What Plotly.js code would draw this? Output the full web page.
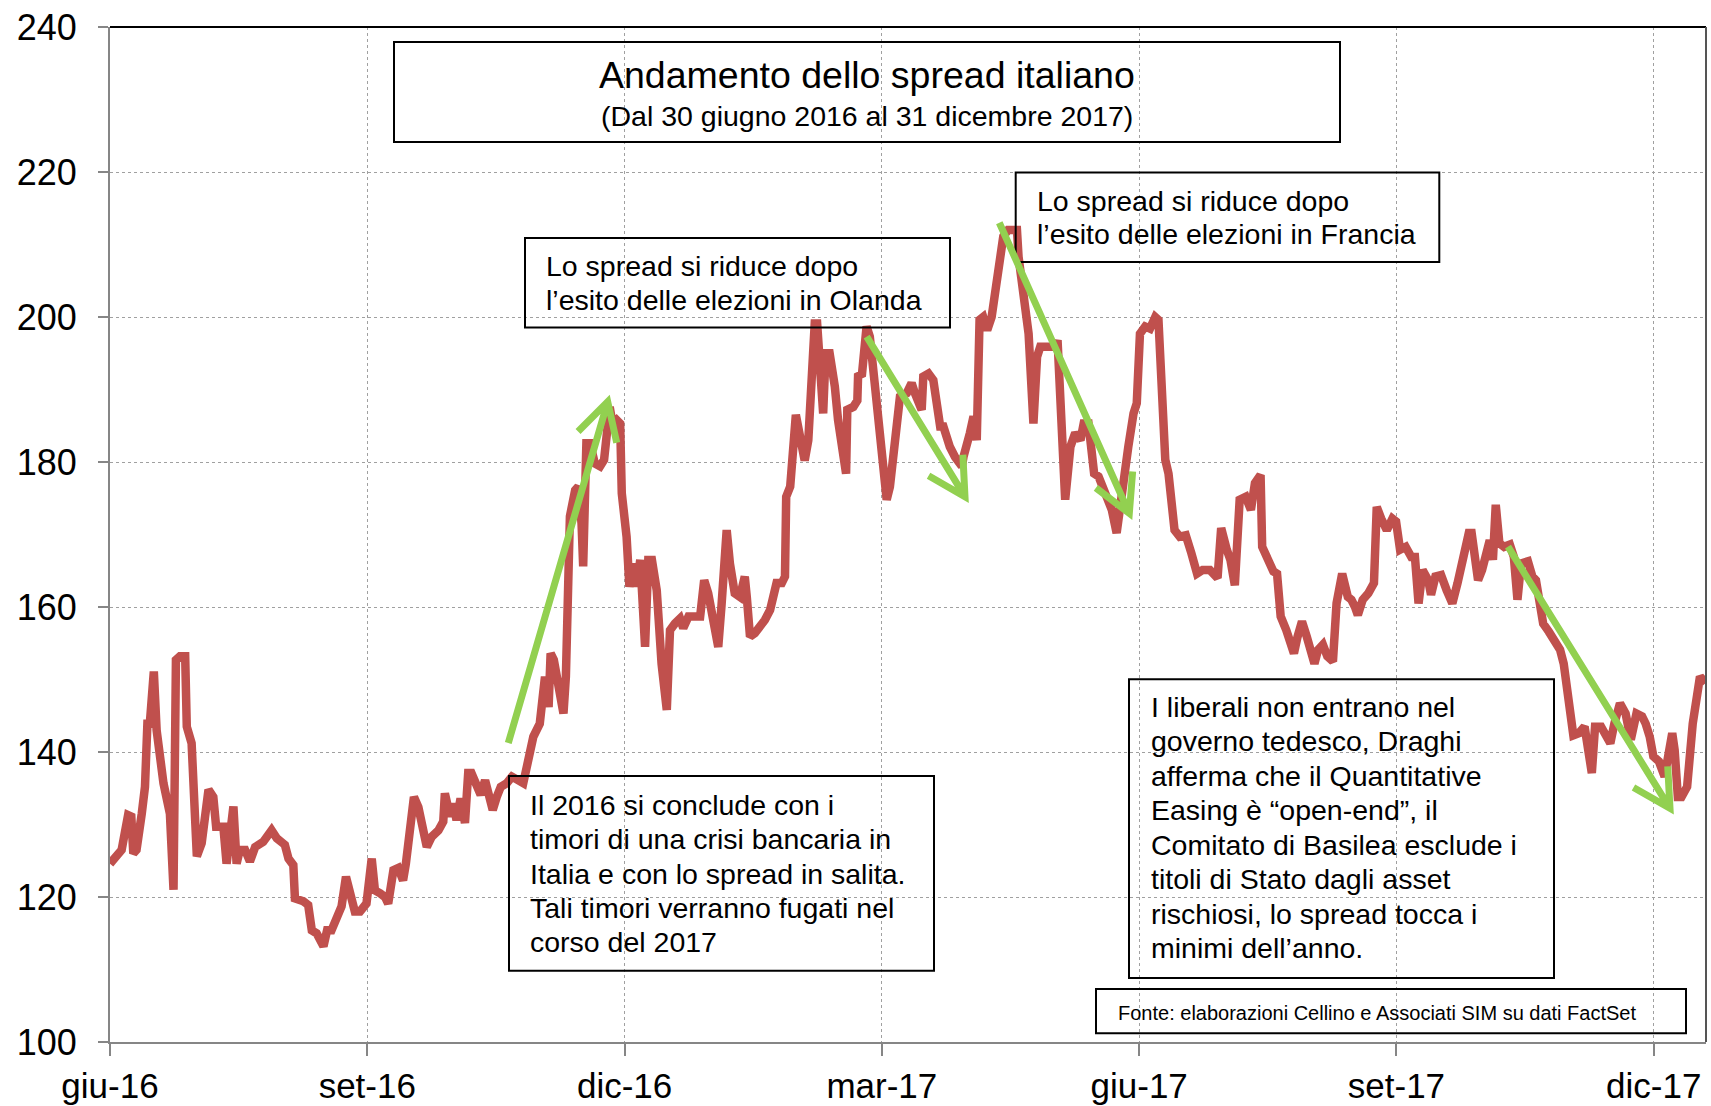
<!DOCTYPE html>
<html>
<head>
<meta charset="utf-8">
<script src="https://cdn.plot.ly/plotly-3.0.1.min.js"></script>
<style>
html,body{margin:0;padding:0;background:#fff;}
#chart{width:1711px;height:1106px;}
</style>
</head>
<body>
<div id="chart"></div>
<script>
// ---- DATA (trading-day index, spread in basis points) ----
const dayIndex = [
0,1.7,2.9,4.5,5.3,5.8,6.6,7.9,8.7,9.3,9.9,10.9,11.6,13.3,14.3,14.9,15.8,16.4,17.4,18.7,19.1,20.3,21.6,22.8,24.5,25.7,26.4,28.2,29.0,30.7,31.5,32.3,33.6,34.8,36.1,38.1,40.2,41.5,43.5,44.4,45.6,46.0,48.1,49.3,50.2,51.4,53.1,54.0,55.1,56.4,57.6,58.7,59.7,60.9,62.2,63.8,65.1,65.9,67.2,68.4,69.2,70.5,71.7,72.9,73.6,74.6,75.6,76.7,77.9,78.8,80.0,81.7,82.9,83.3,84.6,85.4,86.2,87.2,88.3,89.1,89.9,91.2,92.2,93.3,94.1,95.2,96.2,97.2,98.7,100.0,102.8,103.6,104.5,105.3,
106.9,107.8,108.2,109.1,109.6,110.4,111.9,112.8,113.4,114.0,114.4,115.7,116.5,117.3,117.7,118.5,119.4,120.6,121.9,122.9,123.5,124.3,125.0,126.0,126.9,127.3,128.5,129.2,130.2,131.0,131.9,133.1,133.9,134.8,136.0,137.2,138.5,139.3,140.5,141.8,142.6,143.9,146.8,147.8,148.8,150.1,151.3,152.1,153.4,154.2,155.4,156.7,157.9,158.4,159.2,160.4,161.7,162.9,164.2,165.8,167.1,167.9,168.2,169.2,170.6,171.6,172.8,173.7,174.6,175.3,175.9,177.4,178.0,179.0,180.3,181.1,183.1,183.4,184.9,185.9,186.1,187.0,188.2,189.0,190.3,191.5,192.3,193.2,194.0,195.3,196.5,198.2,199.4,200.2,201.1,201.9,202.3,203.6,204.8,205.6,206.5,207.3,208.1,208.9,210.2,211.0,211.9,212.3,213.1,213.9,214.8,215.6,216.3,217.2,218.2,219.3,220.5,222.2,223.4,225.6,226.0,226.8,227.6,228.5,229.7,230.6,231.4,235.2,235.7,236.4,237.6,238.9,240.1,241.4,242.2,243.4,244.8,245.9,247.1,248.0,249.2,250.4,251.3,253.3,254.6,255.4,256.2,257.5,258.7,260.0,260.8,261.6,262.5,263.3,264.8,266.1,267.6,269.0,270.4,271.8,273.6,275.5,276.4,277.8,278.7,279.8,281.0,282.5,283.8,284.8,286.2,286.6,288.0,289.4,290.3,291.2,292.6,293.5,294.5,295.4,296.5,297.7,298.7,299.6,300.5,301.7,302.8,304.2,305.1,306.5,307.9,308.8,309.7,310.4,311.6,313.0,314.4,315.1,316.2,317.6,319.0,319.9,320.9,322.3,323.7,324.6,325.5,326.5,327.9,328.6,329.7,331.1,332.5,333.9,335.2,336.6,338.0,338.7,339.4,340.3,341.3,342.6,343.2,344.0,344.7,345.6,346.8,348.2,349.2,350.1,351.0,352.7,353.8,354.7,355.6,356.5,357.9,359.3,360.7,361.6,362.6,364.0,365.4,366.8,368.6,369.4,370.9,372.3,373.2,374.2,375.6,377.0,378.3,379.7,381.1,382.0,383.0,383.9,385.3,386.7,387.9,388.6,389.2,390.0,390.9,392.3,393.7,395.5,396.9
];
const spreadBp = [
124.6,125.8,126.5,131.3,131.1,126.0,126.5,131.5,135.2,143.9,143.9,151.1,143.0,135.7,132.0,131.5,121.0,152.7,153.2,153.2,143.5,141.2,125.6,127.4,134.8,133.8,129.7,129.7,124.6,132.5,124.6,126.5,126.5,124.9,126.9,127.6,129.2,128.1,127.2,125.3,124.4,119.8,119.4,118.9,115.4,115.0,113.2,115.4,115.4,117.3,118.7,122.8,120.5,118.0,118.0,119.1,125.3,120.9,120.5,120.0,119.1,123.7,124.0,122.3,124.6,129.2,133.8,132.4,129.2,126.9,128.3,129.2,130.4,134.3,131.1,132.9,130.6,133.6,130.2,137.1,137.1,135.2,134.1,136.1,133.8,132.0,133.8,135.2,135.7,136.6,135.7,138.0,140.7,142.1,
143.9,148.5,150.4,146.2,153.6,152.7,148.5,145.3,150.4,166.0,172.5,176.1,176.6,171.5,165.6,182.6,182.6,179.8,179.4,180.3,185.3,187.6,185.3,185.8,185.3,175.7,169.7,162.8,166.0,162.8,166.5,154.5,166.5,166.5,162.3,152.2,145.8,156.8,157.7,158.4,157.1,158.7,158.7,163.7,161.9,158.2,154.5,160.1,170.6,166.0,161.9,161.4,164.2,161.4,155.9,156.4,157.3,158.2,159.6,163.3,163.3,164.2,175.2,176.6,186.5,184.0,180.2,183.0,195.0,199.1,199.1,186.7,195.0,195.0,190.4,185.8,178.4,187.2,187.6,188.5,192.2,191.8,198.7,197.3,190.4,184.0,178.4,174.8,176.6,182.1,189.0,189.5,190.9,189.5,188.1,187.2,191.8,192.2,191.3,188.5,184.9,184.9,183.0,182.1,180.7,179.8,179.4,180.7,182.1,184.0,186.3,183.0,199.6,200.0,198.2,200.0,204.6,211.1,212.0,212.0,208.3,204.2,201.9,197.7,185.3,194.5,195.9,195.9,196.8,186.7,174.8,182.1,184.0,183.0,185.3,185.3,178.4,178.0,176.1,174.8,173.4,170.2,174.3,182.1,186.7,188.1,197.7,198.7,198.4,200.0,199.6,186.7,180.3,178.4,170.6,169.7,169.9,167.4,164.6,165.1,165.1,164.0,170.9,167.9,166.5,163.0,174.8,175.2,173.4,177.1,178.2,168.3,166.5,164.9,164.6,158.7,156.8,155.0,153.6,155.9,158.0,155.9,153.6,152.2,154.1,154.8,153.2,152.5,160.5,164.6,161.4,161.0,160.0,158.9,161.0,161.9,163.3,173.8,172.2,170.6,172.2,171.8,167.9,168.3,166.9,166.9,160.5,165.1,163.7,161.7,164.2,164.4,162.3,160.5,163.3,166.9,170.2,170.2,167.9,163.7,165.1,168.8,169.2,166.5,174.1,168.8,168.3,168.6,166.9,161.0,166.0,166.3,164.2,163.7,161.0,157.7,156.6,155.5,154.1,152.2,147.2,142.3,142.6,143.5,137.1,143.5,143.5,142.1,141.2,143.9,146.7,145.3,141.7,145.3,144.9,143.9,142.1,139.4,138.7,136.6,141.2,142.6,140.3,133.8,133.8,135.2,143.9,150.4,149.5
];
const tickIndex = [0, 64, 128, 192, 256, 320, 384];
const tickLabels = ['giu-16', 'set-16', 'dic-16', 'mar-17', 'giu-17', 'set-17', 'dic-17'];
const yTicks = [100, 120, 140, 160, 180, 200, 220, 240];

const titleMain = 'Andamento dello spread italiano';
const titleSub = '(Dal 30 giugno 2016 al 31 dicembre 2017)';
const noteOlanda = ['Lo spread si riduce dopo', 'l\u2019esito delle elezioni in Olanda'];
const noteFrancia = ['Lo spread si riduce dopo', 'l\u2019esito delle elezioni in Francia'];
const note2016 = ['Il 2016 si conclude con i', 'timori di una crisi bancaria in', 'Italia e con lo spread in salita.', 'Tali timori verranno fugati nel', 'corso del 2017'];
const noteFine = ['I liberali non entrano nel', 'governo tedesco, Draghi', 'afferma che il Quantitative', 'Easing \u00e8 \u201copen-end\u201d, il', 'Comitato di Basilea esclude i', 'titoli di Stato dagli asset', 'rischiosi, lo spread tocca i', 'minimi dell\u2019anno.'];
const sourceNote = 'Fonte: elaborazioni Cellino e Associati SIM su dati FactSet';

// ---- LAYOUT HELPERS (pixel -> paper) ----
const W = 1711, H = 1106;
const L = 110, R = 1706, T = 27, B = 1042;
const fx = X => (X - L) / (R - L);
const fy = Y => (B - Y) / (B - T);
const FONT = '"Liberation Sans", Arial, Helvetica, sans-serif';
const GREEN = '#92D050';

const shapes = [];
const annotations = [];

function box(x0, y0, x1, y1, w) {
  shapes.push({type: 'rect', xref: 'paper', yref: 'paper', x0: fx(x0), x1: fx(x1), y0: fy(y1), y1: fy(y0),
    line: {color: '#000', width: w || 2}, fillcolor: 'rgba(0,0,0,0)', layer: 'above'});
}
function textLines(lines, X, baseline, spacing, fs, anchor) {
  lines.forEach((t, i) => {
    const bl = baseline + i * spacing;
    annotations.push({xref: 'paper', yref: 'paper', x: fx(X), y: fy(bl - 0.3465 * fs),
      xanchor: anchor || 'left', yanchor: 'middle', text: t, showarrow: false,
      borderpad: 0, borderwidth: 0, font: {family: FONT, size: fs, color: '#000'}});
  });
}
function arrow(tx, ty, hx, hy) {
  const ang = Math.atan2(ty - hy, tx - hx);
  const len = 42, spread = 0.50;
  const w1x = hx + len * Math.cos(ang + spread), w1y = hy + len * Math.sin(ang + spread);
  const w2x = hx + len * Math.cos(ang - spread), w2y = hy + len * Math.sin(ang - spread);
  const P = (X, Y) => fx(X).toFixed(5) + ',' + fy(Y).toFixed(5);
  shapes.push({type: 'path', xref: 'paper', yref: 'paper',
    path: 'M' + P(tx, ty) + 'L' + P(hx, hy) + 'M' + P(w1x, w1y) + 'L' + P(hx, hy) + 'L' + P(w2x, w2y),
    line: {color: GREEN, width: 7}, layer: 'above'});
}

// plot frame (top & right)
shapes.push({type: 'line', xref: 'paper', yref: 'paper', x0: 0, x1: 1, y0: 1, y1: 1, line: {color: '#000', width: 2}});
shapes.push({type: 'line', xref: 'paper', yref: 'paper', x0: 1, x1: 1, y0: 0, y1: 1, line: {color: '#555', width: 2}});

// text boxes
box(394, 42, 1340, 142, 2);
textLines([titleMain], 867, 88, 0, 37.5, 'center');
textLines([titleSub], 867, 125.5, 0, 28.5, 'center');

box(525, 238, 950, 327.5, 2);
textLines(noteOlanda, 545.5, 276, 34.3, 28.5);

box(1015.7, 172.4, 1439.3, 262, 2);
textLines(noteFrancia, 1036.7, 210.7, 33.5, 28.5);

box(509, 776, 934, 970.7, 2);
textLines(note2016, 530, 815, 34.2, 28.5);

box(1129, 679.3, 1554, 978, 2);
textLines(noteFine, 1150.7, 716.7, 34.5, 28.5);

box(1096, 989, 1686, 1033.3, 2);
textLines([sourceNote], 1118, 1020, 0, 20);

// green arrows
arrow(508.3, 743, 607.7, 401.7);
arrow(866.7, 336.7, 965, 496.7);
arrow(999.3, 222.7, 1129.3, 513.3);
arrow(1508, 546.7, 1670, 808.3);

const trace = {
  x: dayIndex, y: spreadBp, type: 'scatter', mode: 'lines',
  line: {color: '#C0504D', width: 8.5, shape: 'linear'},
  hoverinfo: 'y', showlegend: false
};

const layout = {
  width: W, height: H,
  margin: {l: L, r: W - R, t: T, b: H - B, pad: 0},
  paper_bgcolor: '#fff', plot_bgcolor: '#fff',
  showlegend: false,
  font: {family: FONT, color: '#000'},
  xaxis: {
    range: [0, 397], tickmode: 'array', tickvals: tickIndex, ticktext: tickLabels,
    showline: true, linecolor: '#868686', linewidth: 2,
    ticks: 'outside', ticklen: 12, tickwidth: 2, tickcolor: '#868686',
    showgrid: true, gridcolor: '#A0A0A0', gridwidth: 1, griddash: 'dot',
    zeroline: false, fixedrange: true,
    tickfont: {family: FONT, size: 35, color: '#000'}, ticklabelstandoff: 0
  },
  yaxis: {
    range: [100, 240], tickmode: 'array', tickvals: yTicks,
    showline: true, linecolor: '#868686', linewidth: 2,
    ticks: 'outside', ticklen: 10, tickwidth: 2, tickcolor: '#868686',
    showgrid: true, gridcolor: '#A0A0A0', gridwidth: 1, griddash: 'dot',
    zeroline: false, fixedrange: true,
    tickfont: {family: FONT, size: 36, color: '#000'}, ticklabelstandoff: 14
  },
  shapes: shapes,
  annotations: annotations
};

Plotly.newPlot('chart', [trace], layout, {displayModeBar: false, staticPlot: true});
</script>
</body>
</html>
